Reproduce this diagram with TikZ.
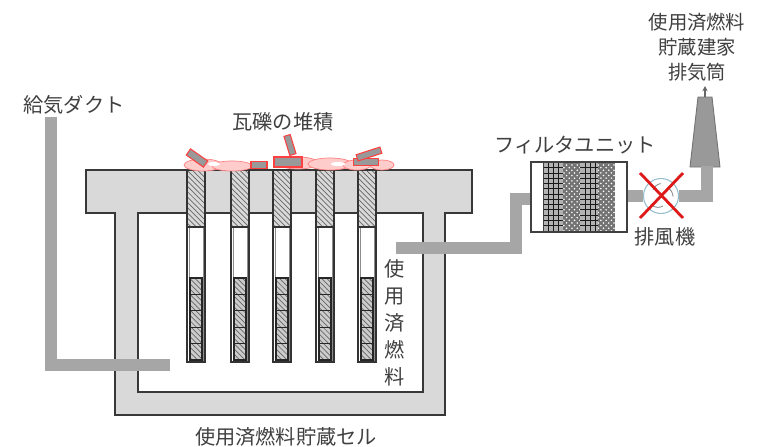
\documentclass[tikz,border=0pt]{standalone}
\usepackage{fontspec}
\setmainfont{Noto Sans CJK JP}
\usetikzlibrary{patterns, arrows.meta}

\tikzset{
lbl/.style={text=black!75, font=\fontsize{11.5}{14.5}\selectfont, inner sep=0pt, align=center},
duct/.style={draw=black!35, line width=6.3pt, line join=miter}
}

\begin{document}
\begin{tikzpicture}[x=0.02cm, y=-0.02cm]
	\tikzset{wall/.style = {fill=black!15, draw=black!78, line width=1.4pt}}
	\tikzset{plug/.style = {fill=black!20, pattern color=black!60, draw=black!80, line width=0.8pt}}
	\tikzset{fuel/.style = {fill=black!25, draw=black!85, line width=0.7pt}}
	\tikzset{debris/.style = {fill=red!20!white, draw=red!50, line width=0.4pt}}
	\tikzset{slab/.style = {shape=rectangle, fill=black!40, draw=red!75, line width=0.6pt, inner sep=0pt}}

	\useasboundingbox (0,0) rectangle (762,447);

	% storage cell: lid and walls
	\filldraw[wall, even odd rule] (86,170) -- (472,170) -- (472,213) -- (445,213) -- (445,415)
		-- (115,415) -- (115,213) -- (86,213) -- cycle (138,213) rectangle (423,392);

	% storage tubes with shield plugs and fuel
	\foreach \c in {196,240,282,325,367} {
		\filldraw[fill=white, draw=black!80, line width=1pt] (\c-9,227) rectangle (\c+9,362);
		\draw[black!45, line width=0.4pt] (\c-7,227) -- (\c-7,360) -- (\c+7,360) -- (\c+7,227);
		\fill[black!15] (\c-9,170) rectangle (\c+9,227);
		\draw[plug, pattern=north west lines] (\c-9,170) rectangle (\c+9,227);
		\foreach \k in {0,...,4} {
			\fill[black!20] (\c-6,278+\k*16.4) rectangle (\c+6,278+\k*16.4+16.4);
			\draw[fuel, pattern=north west lines, pattern color=black!60] (\c-6,278+\k*16.4) rectangle (\c+6,278+\k*16.4+16.4);
		}
	}

	% rubble on the lid
	\filldraw[debris] (203,165) ellipse (19 and 6);
	\filldraw[debris] (232,166) ellipse (20 and 5);
	\filldraw[debris] (298,163) ellipse (20 and 6);
	\filldraw[debris] (330,164) ellipse (22 and 6);
	\filldraw[debris] (357,165) ellipse (14 and 5);
	\filldraw[debris] (382,165) ellipse (12 and 5);
	\fill[white] (214,164) ellipse (6 and 2);
	\fill[white] (338,164) ellipse (7 and 2);
	\node[slab, minimum width=0.42cm, minimum height=0.15cm, rotate=-35] (slab1) at (197,158) {};
	\node[slab, minimum width=0.32cm, minimum height=0.13cm] (slab2) at (259,165) {};
	\node[slab, minimum width=0.56cm, minimum height=0.2cm] (slab3) at (288,162) {};
	\node[slab, minimum width=0.4cm, minimum height=0.13cm, rotate=107] (slab4) at (290,145) {};
	\node[slab, minimum width=0.5cm, minimum height=0.14cm] (slab5) at (366,162) {};
	\node[slab, minimum width=0.5cm, minimum height=0.13cm, rotate=18] (slab6) at (369,154) {};

	% filter unit
	\fill[white] (531,162) rectangle (615,232);
	\fill[black!30] (543,162) rectangle (563,232);
	\fill[pattern=grid, pattern color=black!90] (543,162) rectangle (563,232);
	\fill[black!55] (563,162) rectangle (580,232);
	\fill[pattern=crosshatch dots, pattern color=white] (563,162) rectangle (580,232);
	\fill[black!30] (580,162) rectangle (598,232);
	\fill[pattern=grid, pattern color=black!90] (580,162) rectangle (598,232);
	\fill[black!55] (598,162) rectangle (615,232);
	\fill[pattern=crosshatch dots, pattern color=white] (598,162) rectangle (615,232);
	\draw[black!75, line width=0.5pt] (543,162) -- (543,232);
	\node[draw=black!75, line width=0.8pt, minimum width=1.92cm, minimum height=1.4cm, inner sep=0pt] (filter) at (579,197) {};

	% exhaust stack
	\filldraw[fill=black!40, draw=black!55, line width=0.5pt] (698,97) -- (712,97) -- (720,167) -- (690,167) -- cycle;
	\coordinate (stack) at (707,166);
	\draw[-{Stealth[length=3pt,width=3pt]}, black!60, line width=0.6pt] (705,97) -- (705,86);

	% ducts
	\coordinate (supply top) at (51,117);
	\coordinate (supply end) at (170,365);
	\coordinate (exhaust start) at (396,248);
	\draw[duct] (supply top) |- (supply end);
	\draw[duct] (exhaust start) -| (516,199) -- (filter.west |- 0,199);
	\node[draw=black!40!cyan!50, fill=white, shape=circle, minimum size=0.7cm, inner sep=0pt, line width=0.6pt] (fan) at (661,196) {};
	\draw[duct] (filter.east |- fan.west) -- (fan.west);
	\draw[duct] (fan.east) -| (stack);
	\draw[black!45, line width=0.5pt] (fan.center) ++(-8,-6) arc (200:260:10);
	\draw[black!45, line width=0.5pt] (fan.center) ++(7,-8) arc (300:360:10);
	\draw[black!45, line width=0.5pt] (fan.center) ++(2,10) arc (60:120:10);

	% stopped fan
	\draw[red!85!black!90, line width=1.6pt] (640,173) -- (683,218);
	\draw[red!85!black!90, line width=1.6pt] (683,173) -- (640,218);

	% labels
	\node[lbl] (supply label) at (74,105) {給気ダクト};
	\node[lbl] (rubble label) at (283,122) {瓦礫の堆積};
	\node[lbl] (filter label) at (575,145) {フィルタユニット};
	\node[lbl] (fan label) at (665,237) {排風機};
	\node[lbl, font=\fontsize{11}{14.3}\selectfont] (stack label) at (697,47) {使用済燃料\\貯蔵建家\\排気筒};
	\node[lbl, font=\fontsize{11.5}{15.4}\selectfont] (fuel label) at (395,323) {使\\用\\済\\燃\\料};
	\node[lbl] (cell label) at (286,437) {使用済燃料貯蔵セル};

\end{tikzpicture}
\end{document}
